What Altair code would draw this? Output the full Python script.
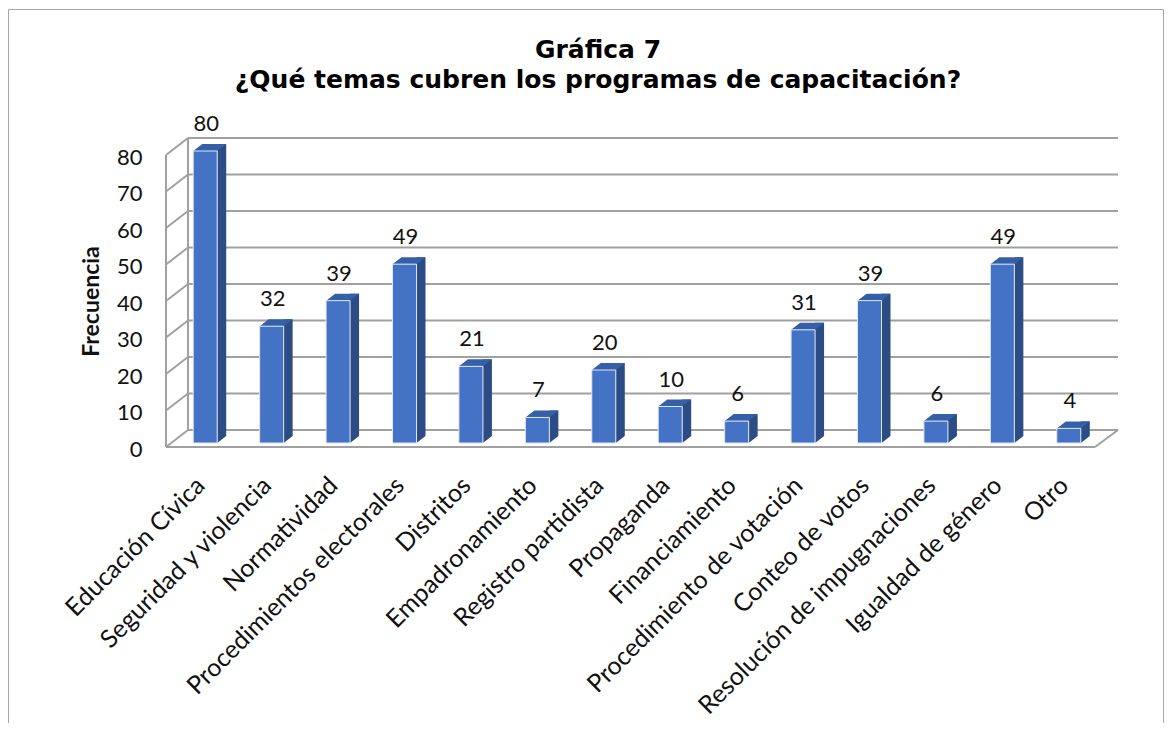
import altair as alt
import pandas as pd

categorias = ["Educación Cívica", "Seguridad y violencia", "Normatividad",
              "Procedimientos electorales", "Distritos", "Empadronamiento",
              "Registro partidista", "Propaganda", "Financiamiento",
              "Procedimiento de votación", "Conteo de votos",
              "Resolución de impugnaciones", "Igualdad de género", "Otro"]
valores = [80, 32, 39, 49, 21, 7, 20, 10, 6, 31, 39, 6, 49, 4]
ticks_y = [0, 10, 20, 30, 40, 50, 60, 70, 80]
titulo = ["Gráfica 7", "¿Qué temas cubren los programas de capacitación?"]
titulo_eje = "Frecuencia"

df = pd.DataFrame({"cat": categorias, "v": valores})
df0 = pd.DataFrame({"cat": categorias, "v": [0] * len(categorias)})
dft = pd.DataFrame({"v": ticks_y})
dfz = pd.DataFrame({"v": [0]})
dfmax = pd.DataFrame({"v": [0, 80]})

W, H = 930, 292
FONT = "Lato"
GRID = "#a0a0a0"
FRONT = "#4472c4"
TOP = "#3560a8"
SIDE = "#2c4c86"

yscale = alt.Scale(domain=[0, 80], nice=False, zero=True)
yaxis = alt.Axis(values=ticks_y, grid=False, domain=False, ticks=False, tickSize=0,
                 labelFont=FONT, labelFontSize=22, labelColor="#111", labelPadding=30,
                 labelOffset=6, title=titulo_eje, titleFont=FONT, titleFontSize=23,
                 titleFontWeight="bold", titleColor="#111", titleX=-81, titleY=150,
                 titleAngle=270, titleAlign="center", titleBaseline="middle")
Y = alt.Y("v:Q", scale=yscale, axis=yaxis)
xscale = alt.Scale(paddingInner=0, paddingOuter=0)
X = alt.X("cat:N", sort=categorias, scale=xscale, axis=None)

# back wall gridlines
grid = alt.Chart(dft).mark_rule(color=GRID, strokeWidth=2, yOffset=-13).encode(
    y=Y, x=alt.value(16), x2=alt.value(946))
# side wall diagonals
diag = alt.Chart(dft).mark_rule(color=GRID, strokeWidth=2, yOffset=4, y2Offset=-13).encode(
    y=Y, y2="v:Q", x=alt.value(-6), x2=alt.value(16))
# back left vertical edge
back_edge = alt.Chart(dfmax).mark_line(color=GRID, strokeWidth=2, yOffset=-13).encode(
    y=Y, x=alt.value(16))
# front left vertical edge
front_edge = alt.Chart(dfmax).mark_line(color=GRID, strokeWidth=2, yOffset=4).encode(
    y=Y, x=alt.value(-6))
# floor front edge
floor_front = alt.Chart(dfz).mark_rule(color=GRID, strokeWidth=2, yOffset=4).encode(
    y=Y, x=alt.value(-6), x2=alt.value(923))
floor_right = alt.Chart(dfz).mark_rule(color=GRID, strokeWidth=2, yOffset=4, y2Offset=-13).encode(
    y=Y, y2="v:Q", x=alt.value(923), x2=alt.value(946))

# bars (3D effect)
side = alt.Chart(df).mark_bar(size=9, xOffset=16.5, yOffset=-7, y2Offset=-7, color=SIDE).encode(
    x=X, y=Y)
side_tri = alt.Chart(df0).mark_point(shape="M12,-7 L12,0 L21,-7 Z", size=4, filled=True,
                                     opacity=1, color=SIDE, strokeWidth=0).encode(x=X, y=Y)
top = alt.Chart(df).mark_point(shape="M-12,0 L12,0 L21,-7 L-3,-7 Z", size=4, filled=True,
                               opacity=1, color=TOP, strokeWidth=0).encode(x=X, y=Y)
front = alt.Chart(df).mark_bar(size=24, color=FRONT, stroke="#dfe7f5", strokeWidth=1).encode(
    x=X, y=Y)
labels = alt.Chart(df).mark_text(dy=-27, dx=1, font=FONT, fontSize=22, color="#111",
                                 baseline="middle").encode(x=X, y=Y, text="v:Q")

# category axis (front plane)
xaxis = alt.Axis(labelAngle=-45, labelAlign="right", labelBaseline="middle", labelFont=FONT,
                 labelFontSize=25, labelColor="#111", labelPadding=38, labelOffset=-5,
                 ticks=False, tickSize=0, domain=False, title=None, labelOverlap=False,
                 labelLimit=0)
xlab = alt.Chart(df).mark_point(opacity=0).encode(
    x=alt.X("cat:N", sort=categorias,
            scale=alt.Scale(paddingInner=0, paddingOuter=0),
            axis=xaxis),
    y=Y)

border = alt.Chart(dfz).mark_rect(fillOpacity=0, stroke="#a6a6a6", strokeWidth=1).encode(
    x=alt.value(-163.5), x2=alt.value(991.5), y=alt.value(-141.5), y2=alt.value(700))

inner = alt.layer(grid, diag, back_edge, front_edge, floor_front, floor_right,
                  side, side_tri, top, front, labels)

chart = alt.layer(border, inner, xlab).resolve_scale(x="independent").properties(
    width=W, height=H,
    title=alt.Title(titulo, font="DejaVu Sans", fontSize=25, fontWeight="bold",
                    color="#000", anchor="middle", frame="group", dx=-39, dy=88,
                    lineHeight=30),
    padding={"left": 164, "top": 143, "right": 62, "bottom": 280},
    autosize=alt.AutoSizeParams(type="none"),
).configure_view(stroke=None)

chart.save("out.html", embed_options={"renderer": "svg", "actions": False})
